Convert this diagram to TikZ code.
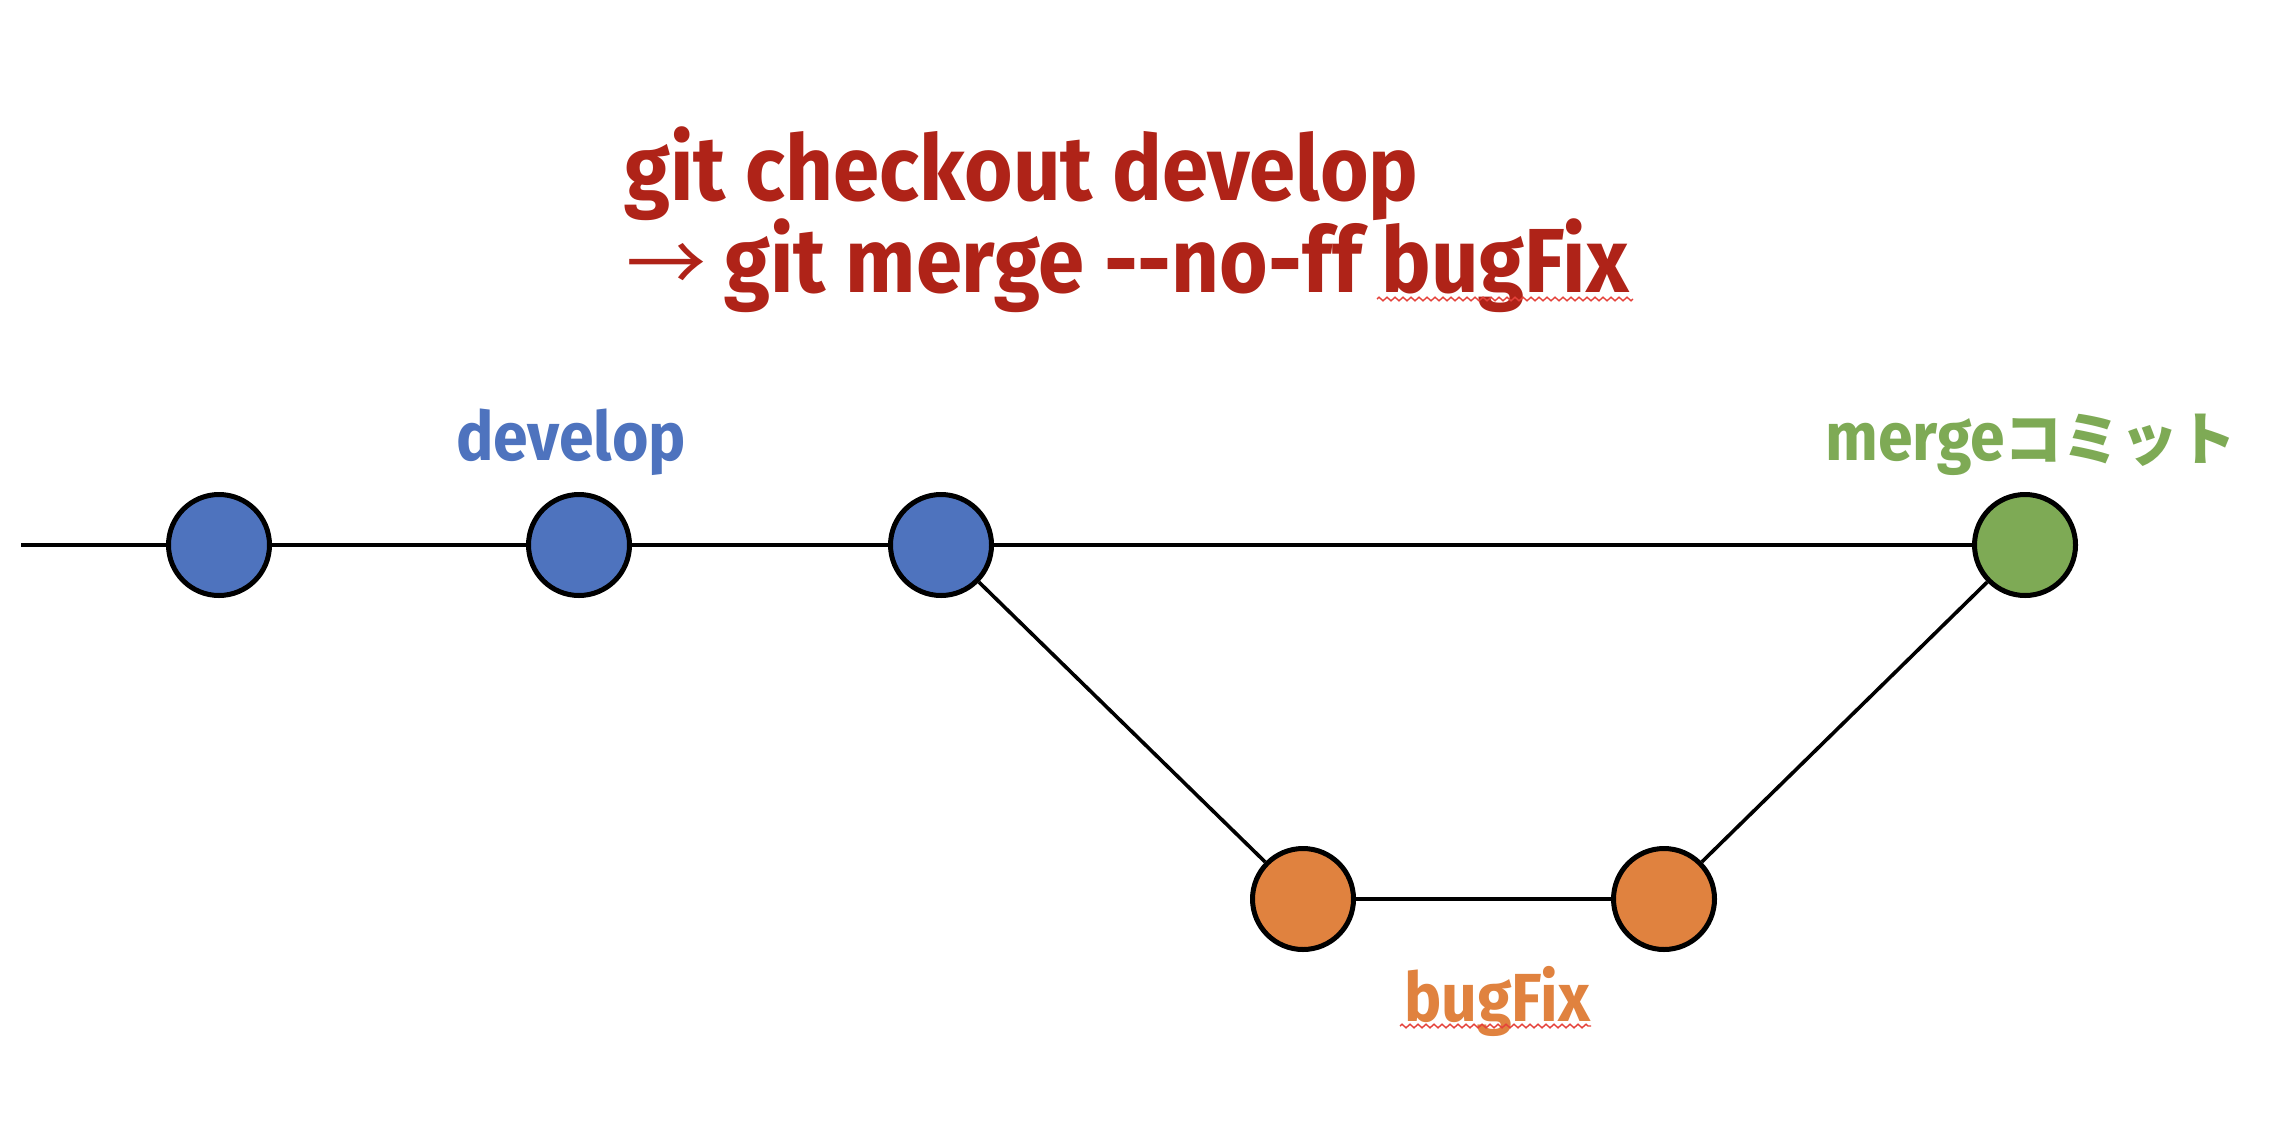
\documentclass[tikz,border=0pt]{standalone}
\usepackage{fontspec}
\usetikzlibrary{decorations.pathmorphing}
\newfontfamily\latf{Fira Sans}[FakeStretch=0.915, Ligatures=NoCommon]
\newfontfamily\labf{Fira Sans}[FakeStretch=0.92]
\newfontfamily\cjk{Noto Sans CJK JP}
\definecolor{cblue}{HTML}{4E73BE}
\definecolor{corange}{HTML}{E0823F}
\definecolor{cgreen}{HTML}{7EAA55}
\definecolor{cred}{HTML}{AF2318}
\definecolor{csquig}{HTML}{E5413A}
\tikzset{
  commit/.style={circle, draw=black, line width=2.5pt, minimum size=50.5pt, inner sep=0pt},
  mainline/.style={draw=black, line width=2.2pt},
  branchline/.style={draw=black, line width=1.8pt},
  titletext/.style={text=cred, font=\latf\bfseries\fontsize{45.5}{50}\selectfont, inner sep=0pt},
  labeltext/.style={font=\labf\bfseries\fontsize{34}{38}\selectfont, inner sep=0pt},
  squig/.style={draw=csquig, line width=0.7pt, decorate, decoration={zigzag, segment length=4pt, amplitude=0.9pt}}
}
\begin{document}
\begin{tikzpicture}[x=0.5pt,y=-0.5pt]
\useasboundingbox[fill=white] (0,0) rectangle (2278,1124);
% title
\node[titletext, anchor=base west] (t1) at (624,200) {git checkout develop};
\node[text=cred, font=\cjk\fontsize{40}{44}\selectfont, inner sep=0pt, anchor=base west] (tarrow) at (626,292) {→};
\node[titletext, anchor=base west] (t2) at (724,292) {git merge \mbox{-}\mbox{-}no-\mbox{f}\mbox{f} bugFix};
\coordinate (sq1a) at (1377,299);
\coordinate (sq1b) at (1633,299);
\draw[squig] (sq1a) -- (sq1b);
% commits
\coordinate (start) at (21,545);
\node[commit, fill=cblue] (c1) at (219,545) {};
\node[commit, fill=cblue] (c2) at (579,545) {};
\node[commit, fill=cblue] (c3) at (941,545) {};
\node[commit, fill=cgreen] (m) at (2025,545) {};
\node[commit, fill=corange] (o1) at (1303,899) {};
\node[commit, fill=corange] (o2) at (1664,899) {};
\draw[mainline] (start) -- (c1);
\draw[mainline] (c1) -- (c2);
\draw[mainline] (c2) -- (c3);
\draw[mainline] (c3) -- (m);
\draw[branchline] (c3) -- (o1);
\draw[mainline] (o1) -- (o2);
\draw[branchline] (o2) -- (m);
% labels
\node[labeltext, text=cblue, anchor=base] (ldev) at (571,460) {develop};
\node[labeltext, text=cgreen, anchor=base west] (lmerge) at (1825,460) {merge{\cjk\bfseries\fontsize{29}{32}\selectfont コミット}};
\node[labeltext, text=corange, anchor=base] (lbug) at (1497,1021) {bugFix};
\coordinate (sq2a) at (1400,1026);
\coordinate (sq2b) at (1591,1026);
\draw[squig] (sq2a) -- (sq2b);
\end{tikzpicture}
\end{document}
